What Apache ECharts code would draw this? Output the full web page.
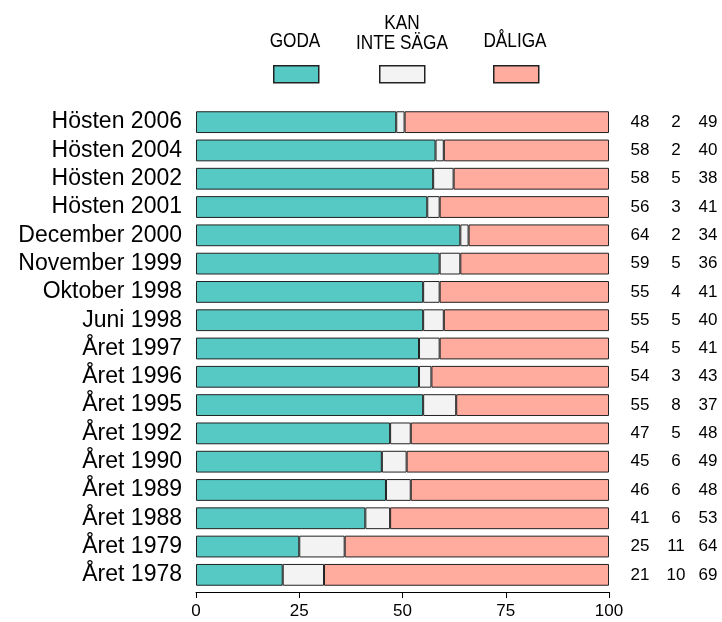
<!DOCTYPE html>
<html>
<head>
<meta charset="utf-8">
<script src="https://cdn.jsdelivr.net/npm/echarts@6/dist/echarts.min.js"></script>
<style>
  html, body { margin: 0; padding: 0; background: #fff; }
  #chart { width: 722px; height: 622px; }
</style>
</head>
<body>
<div id="chart"></div>
<script>
const categories = [
  'Hösten 2006', 'Hösten 2004', 'Hösten 2002', 'Hösten 2001', 'December 2000',
  'November 1999', 'Oktober 1998', 'Juni 1998', 'Året 1997', 'Året 1996',
  'Året 1995', 'Året 1992', 'Året 1990', 'Året 1989', 'Året 1988',
  'Året 1979', 'Året 1978'
]
const goda = [48, 58, 58, 56, 64, 59, 55, 55, 54, 54, 55, 47, 45, 46, 41, 25, 21]
const kanInteSaga = [2, 2, 5, 3, 2, 5, 4, 5, 5, 3, 8, 5, 6, 6, 6, 11, 10]
const daliga = [49, 40, 38, 41, 34, 36, 41, 40, 41, 43, 37, 48, 49, 48, 53, 64, 69]
const xTicks = [0, 25, 50, 75, 100]

const seriesNames = ['GODA', 'KAN INTE SÄGA', 'DÅLIGA']
const colors = ['#56c9c4', '#f3f3f3', '#ffab9e']

// bars are drawn as share of the row total (rows that sum to 99/101 still fill 0-100)
const share = (arr) => arr.map((v, i) => v * 100 / (goda[i] + kanInteSaga[i] + daliga[i]))

const chart = echarts.init(document.getElementById('chart'))

const legendLeft = [273, 379, 493]
const fontFamily = 'Liberation Sans, Arial, sans-serif'

// legend captions: condensed look by squeezing a regular font
const caption = (text, x, y) => ({
  type: 'text',
  x,
  y,
  scaleX: 0.82,
  style: {
    text,
    fill: '#000',
    font: '21px ' + fontFamily,
    align: 'center',
    verticalAlign: 'middle',
    lineHeight: 20
  }
})

chart.setOption({
  animation: false,
  textStyle: { fontFamily },
  grid: {
    left: 196,
    right: 113,
    top: 108,
    bottom: 33
  },
  legend: seriesNames.map((name, i) => ({
    data: [name],
    left: legendLeft[i],
    top: 65,
    padding: 0,
    itemWidth: 45,
    itemHeight: 17,
    icon: 'rect',
    selectedMode: false,
    formatter: () => '',
    itemStyle: { borderColor: '#222', borderWidth: 1.5 }
  })),
  graphic: [
    caption('GODA', 295, 41),
    caption('KAN\nINTE SÄGA', 402, 33),
    caption('DÅLIGA', 515, 41)
  ],
  xAxis: {
    type: 'value',
    min: 0,
    max: 100,
    interval: 25,
    offset: 3,
    axisLine: { show: true, lineStyle: { color: '#000', width: 1 } },
    axisTick: { show: true, length: 6, lineStyle: { color: '#000' } },
    axisLabel: {
      color: '#000',
      fontSize: 17,
      margin: 11,
      formatter: (v) => xTicks.includes(v) ? String(v) : ''
    },
    splitLine: { show: false }
  },
  yAxis: [
    {
      type: 'category',
      data: categories,
      inverse: true,
      axisLine: { show: false },
      axisTick: { show: false },
      axisLabel: { color: '#000', fontSize: 23, margin: 14, interval: 0 }
    },
    {
      type: 'category',
      data: categories,
      inverse: true,
      position: 'right',
      axisLine: { show: false },
      axisTick: { show: false },
      axisLabel: {
        margin: 13,
        interval: 0,
        formatter: (v, i) => `{a|${goda[i]}}{b|${kanInteSaga[i]}}{c|${daliga[i]}}`,
        rich: {
          a: { width: 36, align: 'center', fontSize: 17, color: '#000' },
          b: { width: 36, align: 'center', fontSize: 17, color: '#000' },
          c: { width: 28, align: 'center', fontSize: 17, color: '#000' }
        }
      }
    }
  ],
  series: [goda, kanInteSaga, daliga].map((arr, i) => ({
    name: seriesNames[i],
    type: 'bar',
    stack: 'total',
    barWidth: '77%',
    data: share(arr),
    itemStyle: {
      color: colors[i],
      borderColor: '#222',
      borderWidth: 1
    }
  }))
})
</script>
</body>
</html>
